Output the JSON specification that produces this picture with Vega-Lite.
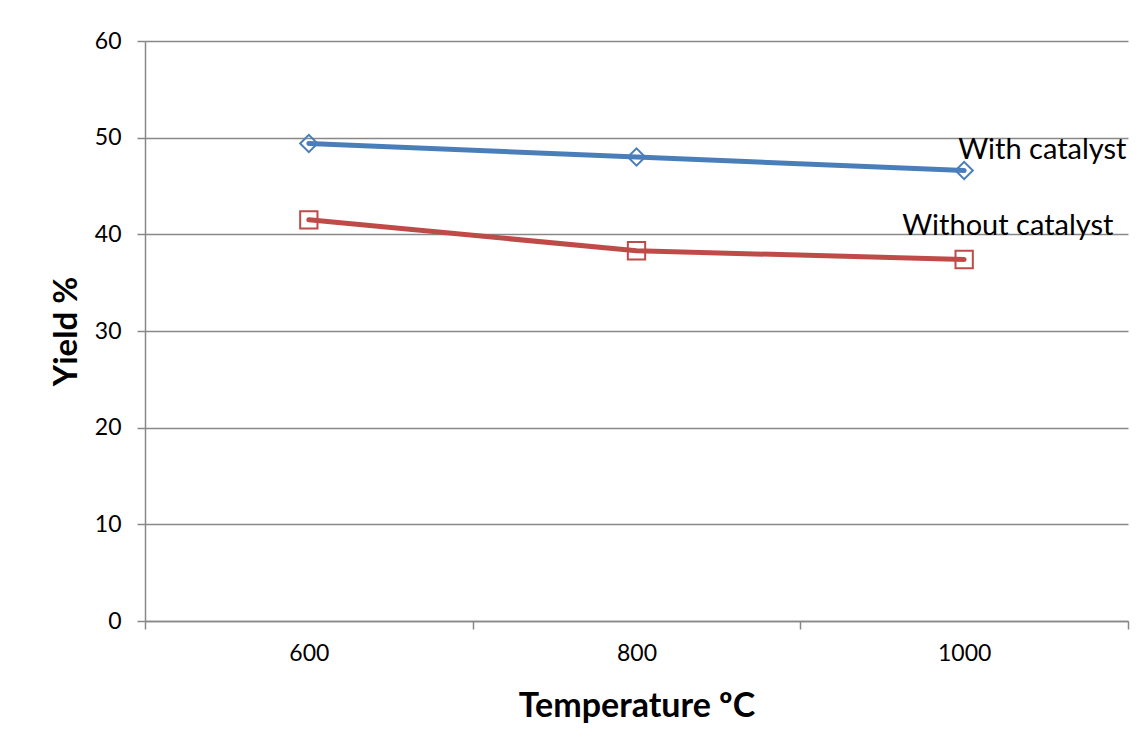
{
  "$schema": "https://vega.github.io/schema/vega-lite/v6.json",
  "width": 983,
  "height": 580,
  "autosize": {"type": "none"},
  "padding": {"left": 145, "top": 41, "right": 16, "bottom": 130},
  "background": "white",
  "config": {
    "view": {"stroke": null},
    "font": "Lato"
  },
  "data": {
    "values": [
      {"series": "With catalyst", "temperature": 600, "yield": 49.4},
      {"series": "With catalyst", "temperature": 800, "yield": 48.0},
      {"series": "With catalyst", "temperature": 1000, "yield": 46.6},
      {"series": "Without catalyst", "temperature": 600, "yield": 41.5},
      {"series": "Without catalyst", "temperature": 800, "yield": 38.3},
      {"series": "Without catalyst", "temperature": 1000, "yield": 37.4}
    ]
  },
  "encoding": {
    "x": {
      "field": "temperature",
      "type": "quantitative",
      "scale": {"domain": [500, 1100], "nice": false, "zero": false},
      "axis": {
        "title": "Temperature ºC",
        "titleFontSize": 34,
        "titleFontWeight": "bold",
        "titleColor": "black",
        "titlePadding": 24,
        "values": [500, 600, 700, 800, 900, 1000, 1100],
        "labelExpr": "datum.value % 200 == 0 ? datum.label : ''",
        "format": "d",
        "labelFontSize": 23,
        "labelColor": "black",
        "labelPadding": 13,
        "grid": false,
        "domainColor": "#888888",
        "domainWidth": 1.5,
        "tickColor": "#888888",
        "tickWidth": 1.5,
        "tickSize": 8,
        "tickOpacity": {"condition": {"test": "datum.value % 200 == 100", "value": 1}, "value": 0}
      }
    },
    "y": {
      "field": "yield",
      "type": "quantitative",
      "scale": {"domain": [0, 60], "nice": false},
      "axis": {
        "title": "Yield %",
        "titleFontSize": 33,
        "titleFontWeight": "bold",
        "titleColor": "black",
        "titlePadding": 11,
        "values": [0, 10, 20, 30, 40, 50, 60],
        "labelFontSize": 23,
        "labelColor": "black",
        "labelPadding": 16,
        "grid": true,
        "gridColor": "#888888",
        "gridWidth": 1.5,
        "domainColor": "#888888",
        "domainWidth": 1.5,
        "tickColor": "#888888",
        "tickWidth": 1.5,
        "tickSize": 8
      }
    },
    "color": {
      "field": "series",
      "type": "nominal",
      "scale": {"domain": ["With catalyst", "Without catalyst"], "range": ["#4A7EBB", "#BE4B48"]},
      "legend": null
    }
  },
  "layer": [
    {
      "mark": {"type": "line", "strokeWidth": 5, "strokeCap": "round"}
    },
    {
      "mark": {"type": "point", "filled": false, "strokeWidth": 2, "opacity": 1},
      "encoding": {
        "shape": {
          "field": "series",
          "type": "nominal",
          "scale": {"domain": ["With catalyst", "Without catalyst"], "range": ["diamond", "square"]},
          "legend": null
        },
        "size": {"value": 300}
      }
    },
    {
      "transform": [{"filter": "datum.temperature == 1000 && datum.series == 'With catalyst'"}],
      "mark": {"type": "text", "align": "left", "baseline": "middle", "dx": -6, "dy": -21, "fontSize": 29, "color": "black"},
      "encoding": {"text": {"field": "series"}, "color": {"value": "black"}}
    },
    {
      "transform": [{"filter": "datum.temperature == 1000 && datum.series == 'Without catalyst'"}],
      "mark": {"type": "text", "align": "left", "baseline": "middle", "dx": -62, "dy": -33, "fontSize": 29, "color": "black"},
      "encoding": {"text": {"field": "series"}, "color": {"value": "black"}}
    }
  ]
}
